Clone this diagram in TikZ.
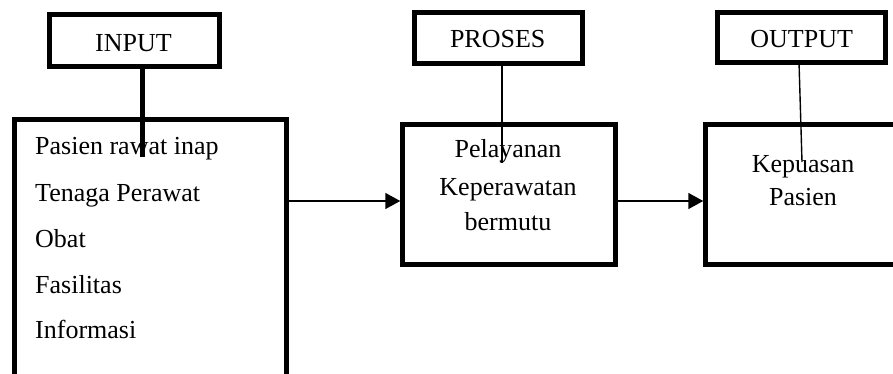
\documentclass[tikz,border=0pt]{standalone}
\usepackage{fontspec}
\setmainfont{Liberation Serif}
\usetikzlibrary{arrows.meta}
\begin{document}
\begin{tikzpicture}[x=1pt,y=-1pt,
  font=\fontsize{26}{30}\selectfont,
  labelbox/.style={draw, line width=5pt, rectangle, inner sep=0pt},
  mainbox/.style={draw, line width=4.5pt, rectangle, inner sep=0pt},
  txt/.style={inner sep=0pt, anchor=base},
  listtxt/.style={inner sep=0pt, anchor=base west},
  thinlink/.style={line width=1.4pt},
  flow/.style={line width=1.6pt, -{Triangle[length=15pt,width=16pt]}}]
  \useasboundingbox (0,0) rectangle (893,374);
  \clip (0,0) rectangle (893,374);

  % heading boxes
  \node[labelbox, minimum width=170pt, minimum height=52pt] (inlbl) at (134.5,40.5) {};
  \node[labelbox, minimum width=168pt, minimum height=51pt] (prolbl) at (498.5,38) {};
  \node[labelbox, minimum width=168pt, minimum height=50pt] (outlbl) at (801.5,37.5) {};
  \node[txt] (intitle) at (133.5,52) {INPUT};
  \node[txt] (protitle) at (497.7,48) {PROSES};
  \node[txt] (outtitle) at (801.7,48) {OUTPUT};

  % content boxes
  \node[mainbox, minimum width=272pt, minimum height=256.5pt] (inbox) at (150.5,247.75) {};
  \node[mainbox, minimum width=213pt, minimum height=140pt] (probox) at (509,194.5) {};
  \node[mainbox, minimum width=215pt, minimum height=140pt] (outbox) at (813,194.5) {};

  % input list
  \node[listtxt] (i1) at (35,155) {Pasien rawat inap};
  \node[listtxt] (i2) at (35,201) {Tenaga Perawat};
  \node[listtxt] (i3) at (35,247) {Obat};
  \node[listtxt] (i4) at (35,293) {Fasilitas};
  \node[listtxt] (i5) at (35,338) {Informasi};

  % process text
  \node[txt] (p1) at (508,158) {Pelayanan};
  \node[txt] (p2) at (508,195) {Keperawatan};
  \node[txt] (p3) at (508,230) {bermutu};

  % output text
  \node[txt] (o1) at (803,172) {Kepuasan};
  \node[txt] (o2) at (803,205) {Pasien};

  % heading links
  \coordinate (inend) at (142,157);
  \coordinate (proend) at (502,163);
  \coordinate (outtop) at (799,62);
  \coordinate (outend) at (802,162);
  \draw[line width=5pt] (inlbl.south -| inend) -- (inend);
  \draw[thinlink] (prolbl.south -| proend) ++(0,-4) -- (proend);
  \draw[thinlink] (outtop) -- (outend);

  % flow arrows
  \coordinate (flowy) at (0,201);
  \draw[flow] (inbox.east |- flowy) -- (probox.west |- flowy);
  \draw[flow] (probox.east |- flowy) -- (outbox.west |- flowy);
\end{tikzpicture}
\end{document}
